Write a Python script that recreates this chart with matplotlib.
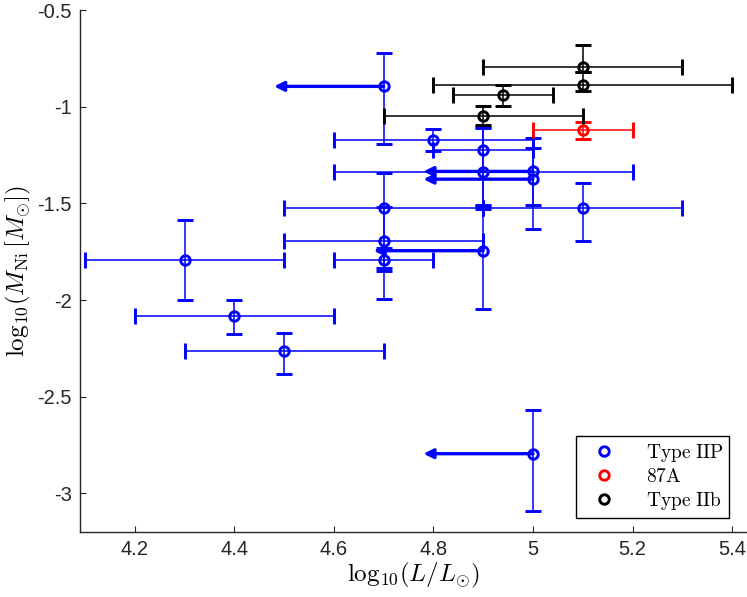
import matplotlib
matplotlib.use("Agg")
import matplotlib.pyplot as plt
from matplotlib.lines import Line2D

plt.rcParams['font.family'] = ['Liberation Sans', 'DejaVu Sans']
plt.rcParams['mathtext.fontset'] = 'cm'
plt.rcParams['axes.unicode_minus'] = False

# ---------------- data ----------------
# Type IIP with luminosity measurements (x error bars)
iip_x = [4.8, 4.9, 4.9, 4.7, 5.1, 4.7, 4.7, 4.3, 4.4, 4.5]
iip_y = [-1.17, -1.222, -1.339, -1.522, -1.522, -1.695, -1.792, -1.794, -2.082, -2.265]
iip_xerr = [0.2, 0.1, 0.3, 0.2, 0.2, 0.2, 0.1, 0.2, 0.2, 0.2]
iip_yerr_lo = [0.057, 0.29, 0.19, 0.31, 0.175, 0.30, 0.06, 0.205, 0.095, 0.12]
iip_yerr_hi = [0.057, 0.115, 0.23, 0.18, 0.125, 0.175, 0.06, 0.21, 0.08, 0.095]

# Type IIP luminosity upper limits (arrows)
lim_x = [4.7, 5.0, 5.0, 4.9, 5.0]
lim_y = [-0.895, -1.335, -1.375, -1.745, -2.795]
lim_yerr_lo = [0.30, 0.175, 0.26, 0.30, 0.297]
lim_yerr_hi = [0.175, 0.172, 0.16, 0.235, 0.228]

# SN 1987A
sn87a_x = [5.1]
sn87a_y = [-1.123]
sn87a_xerr = [0.1]
sn87a_yerr = [0.043]

# Type IIb
iib_x = [5.1, 5.1, 4.94, 4.9]
iib_y = [-0.795, -0.887, -0.94, -1.046]
iib_xerr = [0.2, 0.3, 0.1, 0.2]
iib_yerr_lo = [0.028, 0.034, 0.058, 0.05]
iib_yerr_hi = [0.115, 0.064, 0.053, 0.048]

legend_labels = ['Type IIP', '87A', 'Type IIb']
xticks = [4.2, 4.4, 4.6, 4.8, 5.0, 5.2, 5.4]
xticklabels = ['4.2', '4.4', '4.6', '4.8', '5', '5.2', '5.4']
yticks = [-0.5, -1, -1.5, -2, -2.5, -3]
yticklabels = ['-0.5', '-1', '-1.5', '-2', '-2.5', '-3']
arrow_len = 0.22

# ---------------- plot ----------------
fig = plt.figure(figsize=(7.47, 5.97), dpi=100)
ax = fig.add_axes([80/747, 65/597, 667/747, 522/597])

BLUE = (0, 0, 1)
RED = (1, 0, 0)
BLACK = (0, 0, 0)
ms = 6.8
mew = 2.1
cap = 5.5
elw = 1.1

def eb(x, y, xerr, ylo, yhi, c):
    ax.errorbar(x, y, xerr=xerr, yerr=[ylo, yhi], fmt='o', color=c,
                ecolor=c, elinewidth=elw, capsize=cap, capthick=elw,
                markersize=ms, markeredgewidth=mew, markerfacecolor='none',
                markeredgecolor=c, zorder=3)

eb(iip_x, iip_y, iip_xerr, iip_yerr_lo, iip_yerr_hi, BLUE)
eb(lim_x, lim_y, None, lim_yerr_lo, lim_yerr_hi, BLUE)
for x, y in zip(lim_x, lim_y):
    ax.annotate('', xy=(x - arrow_len, y), xytext=(x, y),
                arrowprops=dict(arrowstyle='-|>', color=BLUE, lw=2.4,
                                mutation_scale=14, shrinkA=0, shrinkB=0),
                zorder=4)
eb(sn87a_x, sn87a_y, sn87a_xerr, sn87a_yerr, sn87a_yerr, RED)
eb(iib_x, iib_y, iib_xerr, iib_yerr_lo, iib_yerr_hi, BLACK)

ax.set_xlim(4.09, 5.43)
ax.set_ylim(-3.2, -0.5)
ax.set_xticks(xticks)
ax.set_xticklabels(xticklabels)
ax.set_yticks(yticks)
ax.set_yticklabels(yticklabels)

for s in ['top', 'right']:
    ax.spines[s].set_visible(False)
for s in ['left', 'bottom']:
    ax.spines[s].set_color((0.15, 0.15, 0.15))
    ax.spines[s].set_linewidth(1.0)
ax.tick_params(direction='in', length=4.5, width=0.8, colors=(0.15, 0.15, 0.15),
               labelsize=14.5, pad=6)

ax.set_xlabel(r'$\mathrm{log}_{10}(L/L_{\odot})$', fontsize=18, labelpad=1)
ax.set_ylabel(r'$\mathrm{log}_{10}(M_{\rm Ni}\,[M_{\odot}])$', fontsize=18, labelpad=3)

handles = [Line2D([], [], ls='none', marker='o', markersize=ms, markeredgewidth=mew,
                  markerfacecolor='none', markeredgecolor=c)
           for c in (BLUE, RED, BLACK)]
leg = ax.legend(handles, [r'$\mathrm{' + l.replace(' ', r'\ ') + '}$' for l in legend_labels],
                loc='lower right', bbox_to_anchor=(0.973, 0.027), fontsize=14,
                frameon=True, fancybox=False, edgecolor='black', framealpha=1,
                handletextpad=1.0, borderpad=0.3, labelspacing=0.2, handlelength=2.3,
                borderaxespad=0)
leg.get_frame().set_linewidth(1.0)

fig.savefig('out.png', dpi=100)
